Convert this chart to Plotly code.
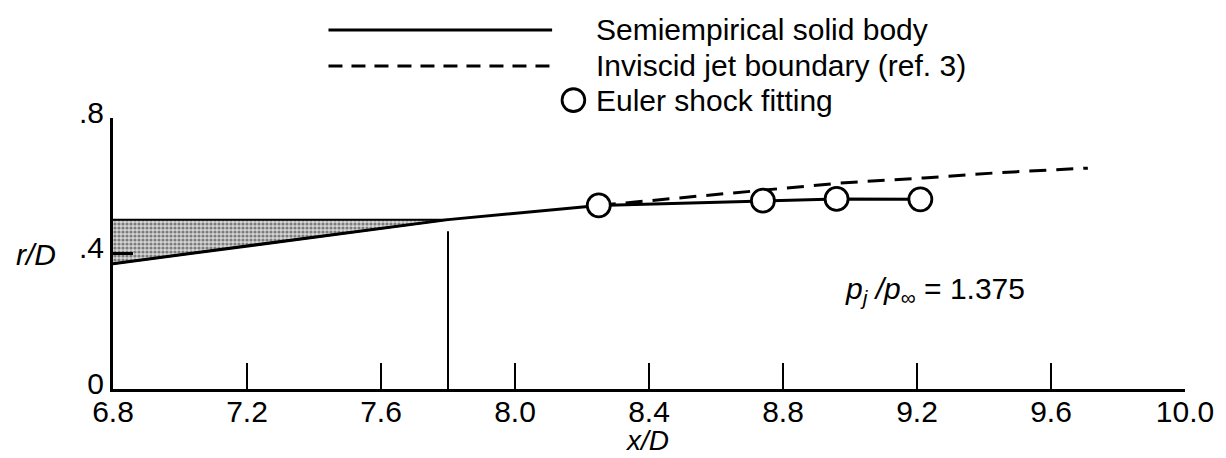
import plotly.graph_objects as go

# Semiempirical solid body contour (x/D, r/D)
body_x = [6.8, 7.8, 8.25, 8.74, 8.96, 9.21]
body_r = [0.37, 0.50, 0.542, 0.556, 0.561, 0.560]

# Stippled region between the body contour and r/D = 0.5
shade_x = [6.8, 7.8, 6.8]
shade_r = [0.50, 0.50, 0.37]

# Inviscid jet boundary (ref. 3)
jet_x = [8.25, 8.5, 8.76, 8.97, 9.22, 9.45, 9.71]
jet_r = [0.542, 0.565, 0.589, 0.608, 0.623, 0.639, 0.652]

# Euler shock-fitting results
euler_x = [8.25, 8.74, 8.96, 9.21]
euler_r = [0.542, 0.556, 0.561, 0.560]

# Vertical station marker
station_x = [7.8, 7.8]
station_r = [0.0, 0.466]

x_ticks = [6.8, 7.2, 7.6, 8.0, 8.4, 8.8, 9.2, 9.6, 10.0]
x_ticktext = ["6.8", "7.2", "7.6", "8.0", "8.4", "8.8", "9.2", "9.6", "10.0"]
y_ticks = [0.0, 0.4, 0.8]
y_ticktext = ["0", ".4", ".8"]

FONT = "Liberation Sans, Arial, Helvetica, sans-serif"
FS = 30

fig = go.Figure()

fig.add_trace(go.Scatter(
    x=shade_x, y=shade_r, mode="lines", fill="toself",
    fillcolor="rgba(255,255,255,1)",
    fillpattern=dict(shape=".", size=4, solidity=0.5,
                     fgcolor="#222222", bgcolor="#d6d6d6"),
    line=dict(color="black", width=2), showlegend=False, hoverinfo="skip"))

fig.add_trace(go.Scatter(
    x=station_x, y=station_r, mode="lines",
    line=dict(color="black", width=2), showlegend=False))

fig.add_trace(go.Scatter(
    x=jet_x, y=jet_r, mode="lines",
    line=dict(color="black", width=3, dash="17px,10px"), showlegend=False))

fig.add_trace(go.Scatter(
    x=body_x, y=body_r, mode="lines",
    line=dict(color="black", width=3), showlegend=False))

fig.add_trace(go.Scatter(
    x=euler_x, y=euler_r, mode="markers",
    marker=dict(symbol="circle", size=23, color="white",
                line=dict(color="black", width=2.8)),
    showlegend=False))

# Key drawn above the axes
legend_rows = [
    ("Semiempirical solid body", 1.325, "solid"),
    ("Inviscid jet boundary (ref. 3)", 1.192, "dash"),
    ("Euler shock fitting", 1.066, "circle"),
]
for text, yy, kind in legend_rows:
    if kind == "solid":
        fig.add_shape(type="line", xref="paper", yref="paper",
                      x0=0.201, x1=0.4096, y0=yy, y1=yy,
                      line=dict(color="black", width=3))
    elif kind == "dash":
        fig.add_shape(type="line", xref="paper", yref="paper",
                      x0=0.201, x1=0.4096, y0=yy, y1=yy,
                      line=dict(color="black", width=3, dash="14px,9px"))
    else:
        fig.add_shape(type="circle", xref="paper", yref="paper",
                      x0=0.4295 - 0.0106, x1=0.4295 + 0.0106,
                      y0=yy - 0.042, y1=yy + 0.042,
                      line=dict(color="black", width=2.8), fillcolor="white")
    fig.add_annotation(text=text, xref="paper", yref="paper",
                       x=0.4486, y=yy, xanchor="left", yanchor="middle",
                       showarrow=False, font=dict(family=FONT, size=FS, color="black"))

fig.add_annotation(
    text="<i>p<sub>j</sub> /p</i><sub>∞</sub> = 1.375",
    xref="x", yref="y", x=8.98, y=0.29, xanchor="left", yanchor="middle",
    showarrow=False, font=dict(family=FONT, size=FS, color="black"))

fig.add_annotation(text="<i>r/D</i>", xref="paper", yref="paper",
                   x=-0.072, y=0.498, xanchor="center", yanchor="middle",
                   showarrow=False, font=dict(family=FONT, size=FS, color="black"))
fig.add_annotation(text="<i>x/D</i>", xref="paper", yref="paper",
                   x=0.4977, y=-0.19, xanchor="center", yanchor="middle",
                   showarrow=False, font=dict(family=FONT, size=28, color="black"))

fig.update_xaxes(
    range=[6.8, 10.0], tickvals=x_ticks, ticktext=x_ticktext,
    ticks="inside", ticklen=26, tickwidth=2, tickcolor="black",
    ticklabelstandoff=-6,
    showline=True, linewidth=3, linecolor="black",
    showgrid=False, zeroline=False,
    tickfont=dict(family=FONT, size=FS, color="black"))
fig.update_yaxes(
    range=[0, 0.8], tickvals=y_ticks, ticktext=y_ticktext,
    ticks="inside", ticklen=20, tickwidth=2.5, tickcolor="black",
    ticklabelshift=-6,
    showline=True, linewidth=3, linecolor="black",
    showgrid=False, zeroline=False,
    tickfont=dict(family=FONT, size=FS, color="black"))

fig.update_layout(
    width=1226, height=458,
    margin=dict(l=113, r=34, t=118, b=69),
    plot_bgcolor="white", paper_bgcolor="white",
    showlegend=False)

fig.write_html("out.html")
